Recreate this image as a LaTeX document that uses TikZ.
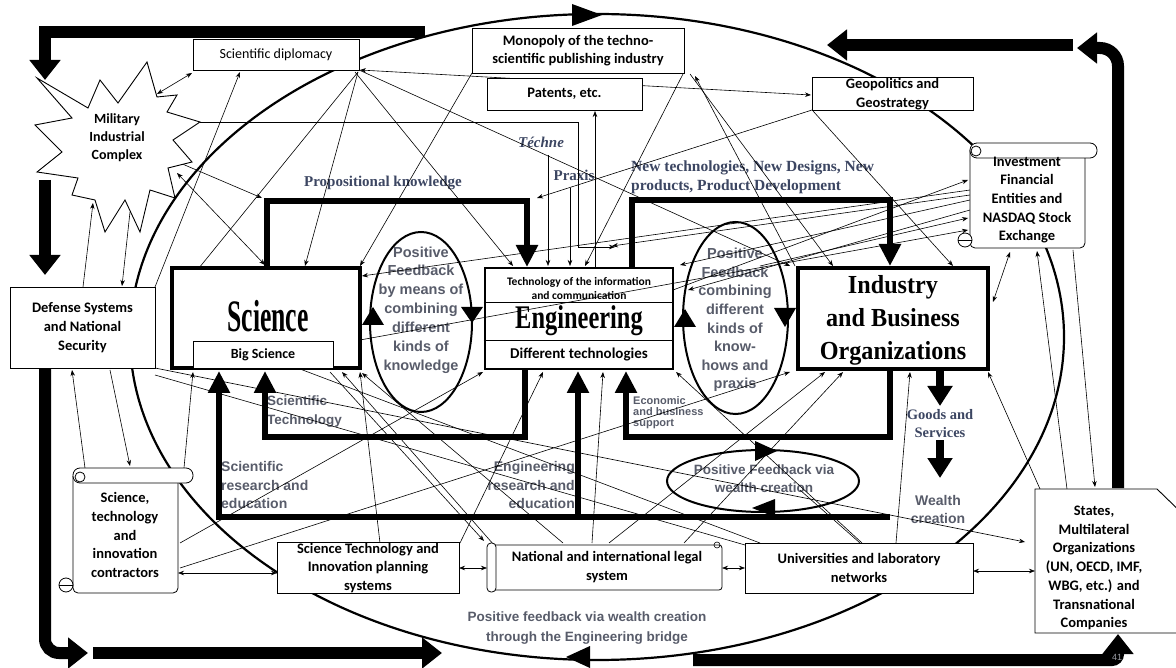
\documentclass[tikz,border=0pt]{standalone}
\usepackage{fontspec}
\usepackage{graphicx}
\setmainfont{Liberation Serif}
\newfontfamily\cfont{Carlito}
\newfontfamily\afont{Liberation Sans}
\usetikzlibrary{arrows.meta}
\definecolor{lab}{RGB}{88,92,106}
\definecolor{slate}{RGB}{60,70,98}
\begin{document}
\begin{tikzpicture}[x=1pt,y=-1pt,
  box/.style={draw,line width=0.9pt,fill=white,align=center,inner sep=1pt,font=\cfont\bfseries\fontsize{14.5}{18.7}\selectfont},
  btxt/.style={align=center,inner sep=0pt,font=\cfont\bfseries\fontsize{14.5}{18.7}\selectfont},
  ta/.style={line width=0.6pt,-{Stealth[length=6pt,width=4.5pt]}},
  tb/.style={line width=0.6pt,{Stealth[length=6pt,width=4.5pt]}-{Stealth[length=6pt,width=4.5pt]}},
  tl/.style={line width=0.6pt},
  thk/.style={line width=6.5pt,-{Triangle[length=22pt,width=21pt]}},
  outer/.style={line width=12pt,-{Triangle[length=20pt,width=30pt]}},
  gsans/.style={align=center,inner sep=0pt,text=lab,font=\afont\bfseries\fontsize{14.5}{18.9}\selectfont},
  gserif/.style={align=center,inner sep=0pt,text=slate,font=\bfseries\fontsize{15}{19}\selectfont},
  fbell/.style={line width=2pt},
]
\useasboundingbox (0,0) rectangle (1176,668);
\fill[white] (0,0) rectangle (1176,668);

% big ellipse
\draw[line width=2.2pt] (597,337) ellipse [x radius=467, y radius=323];
\fill (572,4) -- (602,15) -- (572,26) -- cycle;
\fill (566,657) -- (590,646) -- (590,668) -- cycle;

% outer loop
\draw[outer] (425,32) -- (45,32) -- (45,80);
\draw[outer] (45,180) -- (45,275);
\draw[outer,rounded corners=14] (45,368) -- (45,653) -- (88,653);
\draw[outer] (93,653) -- (442,653);
\draw[outer,rounded corners=6] (693,660) -- (1118,660) -- (1118,634);
\draw[outer,rounded corners=18] (1118,488) -- (1118,48) -- (1077,48);
\draw[outer] (1073,45) -- (827,45);

% feedback ellipse texts
\node[gsans] (lfb) at (421,310) {Positive\\Feedback\\by means of\\combining\\different\\kinds of\\knowledge};
\node[gsans,font=\afont\bfseries\fontsize{14.5}{18.6}\selectfont] (rfb) at (735,320) {Positive\\Feedback\\combining\\different\\kinds of\\know-\\hows and\\praxis};
\node[gsans,font=\afont\bfseries\fontsize{13.5}{18}\selectfont] (pfw) at (764,479) {Positive Feedback via\\wealth creation};

% labels
\node[gserif] (prop) at (383,183) {Propositional knowledge};
\node[gserif] (techne) at (541,142) {\itshape Téchne};
\node[gserif] (praxis) at (574,175) {Praxis};
\node[gserif,anchor=west,align=left,font=\bfseries\fontsize{15.5}{19}\selectfont] (newtech) at (631,177) {New technologies, New Designs, New\\products, Product Development};
\node[gserif,font=\bfseries\fontsize{14.5}{18}\selectfont] (goods) at (940,424) {Goods and\\Services};
\node[gsans,anchor=west,align=left,font=\afont\bfseries\fontsize{13.5}{19}\selectfont] (scitech) at (267,412) {Scientific\\Technology};
\node[gsans,anchor=west,align=left,font=\afont\bfseries\fontsize{14}{18.5}\selectfont] (scires) at (221,485) {Scientific\\research and\\education};
\node[gsans,anchor=east,align=right,font=\afont\bfseries\fontsize{14}{18.5}\selectfont] (engres) at (575,485) {Engineering\\research and\\education};
\node[gsans,anchor=west,align=left,font=\afont\bfseries\fontsize{11}{11}\selectfont] (econ) at (633,413) {Economic\\and business\\support};
\node[gsans,font=\afont\bfseries\fontsize{14}{18}\selectfont] (wealth) at (938,509) {Wealth\\creation};
\node[gsans,font=\afont\bfseries\fontsize{13.5}{20}\selectfont] (pfb) at (587,628) {Positive feedback via wealth creation\\through the Engineering bridge};
\node[text=lab!60,font=\afont\fontsize{9}{9}\selectfont] (pg) at (1117,657) {41};

% feedback ellipses
\draw[fbell] (421,322) ellipse [x radius=51, y radius=90];
\fill (373,307) -- (384,325) -- (362,325) -- cycle;
\fill (472,323) -- (483,307) -- (461,307) -- cycle;
\draw[fbell] (735.5,318) ellipse [x radius=52.5, y radius=96];
\fill (685,309) -- (696,327) -- (674,327) -- cycle;
\fill (785,327) -- (796,308) -- (774,308) -- cycle;
\draw[fbell] (763,481) ellipse [x radius=96, y radius=31];
\fill (777,451) -- (755,441) -- (755,461) -- cycle;
\fill (752,508) -- (775,499) -- (775,517) -- cycle;

% thick inner loops
\draw[thk] (267,268) -- (267,201) -- (527,201) -- (527,267);
\draw[thk] (525,369) -- (525,437) -- (265,437) -- (265,371);
\draw[thk] (890,517) -- (219,517) -- (219,371);
\draw[thk] (578,517) -- (578,371);
\draw[thk] (632,268) -- (632,200) -- (890,200) -- (890,266);
\draw[thk] (890,369) -- (890,437) -- (626,437) -- (626,371);
\draw[line width=8pt,-{Triangle[length=20pt,width=24pt]}] (940,369) -- (940,406);
\draw[line width=8pt,-{Triangle[length=20pt,width=24pt]}] (940,440) -- (940,478);

% thin connectors, top
\draw[tb] (192,73) -- (157,94);
\draw[ta] (155,287) -- (240,72);
\draw[ta] (83,287) -- (93,203);
\draw[ta] (130,212) -- (122,286);
\draw[tb] (177,173) -- (265,265);
\draw[ta] (173,160) -- (262,198);
\draw[ta] (200,122) -- (578,122) -- (578,247) -- (615,247);
\draw[ta] (358,72) -- (305,266);
\draw[tl] (358,72) -- (199,268);
\draw[ta] (472,73) -- (360,266);
\draw[ta] (355,72) -- (513,266);
\draw[ta] (359,70) -- (790,266);
\draw[ta] (683,74) -- (585,266);
\draw[ta] (795,266) -- (695,76);
\draw[ta] (690,74) -- (833,266);
\draw[ta] (595,268) -- (595,111);
\draw[ta] (548,155) -- (548,266);
\draw[ta] (570,188) -- (570,266);
\draw[ta] (812,110) -- (537,198);
\draw[ta] (813,111) -- (953,266);
\draw[tb] (360,70) -- (811,95);
\draw[ta] (673,290) -- (968,180);
\draw[ta] (760,266) -- (968,218);
\draw[ta] (970,195) -- (612,246);
\draw[ta] (970,200) -- (680,265);
\draw[ta] (970,210) -- (688,290);
\draw[ta] (970,190) -- (362,276);
\draw[ta] (360,340) -- (968,230);
\draw[tb] (1010,252) -- (993,302);
\draw[ta] (1067,489) -- (1037,251);
\draw[ta] (1073,250) -- (1095,487);

% thin connectors, bottom
\draw[ta] (184,468) -- (193,372);
\draw[ta] (110,370) -- (130,466);
\draw[ta] (85,468) -- (72,370);
\draw[ta] (380,543) -- (360,372);
\draw[ta] (563,543) -- (362,373);
\draw[ta] (494,545) -- (342,372);
\draw[ta] (180,543) -- (483,372);
\draw[ta] (460,543) -- (543,372);
\draw[ta] (592,543) -- (603,372);
\draw[ta] (862,543) -- (676,372);
\draw[ta] (609,543) -- (825,372);
\draw[ta] (684,543) -- (843,372);
\draw[ta] (896,543) -- (910,372);
\draw[ta] (1040,489) -- (988,372);
\draw[ta] (155,368) -- (1025,542);
\draw[tl] (155,375) -- (745,545);
\draw[tl] (300,369) -- (760,543);
\draw[ta] (330,372) -- (484,541);
\draw[ta] (180,568) -- (790,372);
\draw[tl] (800,490) -- (860,543);
\draw[tb] (178,573) -- (277,573);
\draw[tb] (459,568) -- (487,568);
\draw[tb] (722,568) -- (745,568);
\draw[tb] (973,571) -- (1035,571);

% main boxes
\node[draw,line width=3.5pt,minimum width=188,minimum height=100,inner sep=0pt] (sci) at (266,318) {};
\node[inner sep=0pt] (scit) at (268,316) {\scalebox{0.57}[1]{\fontsize{45}{45}\selectfont\bfseries Science}};
\node[box,font=\cfont\bfseries\fontsize{14}{16}\selectfont,minimum width=140,minimum height=27] (bigsci) at (263,355) {Big Science};
\node[draw,line width=2.8pt,minimum width=188,minimum height=101,inner sep=0pt] (eng) at (579,318.5) {};
\draw[line width=1pt] (eng.west |- 0,303) -- (eng.east |- 0,303);
\draw[line width=1pt] (eng.west |- 0,341) -- (eng.east |- 0,341);
\node[btxt,font=\cfont\bfseries\fontsize{11.5}{14}\selectfont] (ict) at (579,289) {Technology of the information\\and communication};
\node[inner sep=0pt] (engt) at (579,321) {\scalebox{0.74}[1]{\fontsize{33}{33}\selectfont\bfseries Engineering}};
\node[btxt,font=\cfont\bfseries\fontsize{15}{16}\selectfont] (difft) at (579,355) {Different technologies};
\node[draw,line width=3.5pt,minimum width=190,minimum height=101,inner sep=0pt] (ind) at (893,318.5) {};
\node[inner sep=0pt] (indt) at (893,320) {\scalebox{0.93}[1]{\fontsize{26}{33}\selectfont\bfseries\begin{tabular}{@{}c@{}}Industry\\and Business\\Organizations\end{tabular}}};

% small boxes
\node[box,font=\cfont\fontsize{14}{16}\selectfont,minimum width=166,minimum height=31] (dipl) at (276,54.5) {Scientific diplomacy};
\node[box,minimum width=212,minimum height=45] (mono) at (578,50.5) {Monopoly of the techno-\\scientific publishing industry};
\node[box,minimum width=155,minimum height=32] (pat) at (564.5,94) {Patents, etc.};
\node[box,minimum width=161,minimum height=32] (geo) at (892.5,94) {Geopolitics and\\Geostrategy};
\node[box,minimum width=145,minimum height=81] (def) at (82.5,327.5) {Defense Systems\\and National\\Security};
\node[box,minimum width=182,minimum height=50] (plan) at (368,568) {Science Technology and\\Innovation planning\\systems};
\node[box,minimum width=228,minimum height=50] (univ) at (859,568) {Universities and laboratory\\networks};

% military star
\draw[fill=white,line width=0.9pt] (37,78) -- (88,108) -- (100,80) -- (118,103) -- (147,62) -- (157,97) -- (177,95) -- (167,112) -- (200,122) -- (173,140) -- (192,162) -- (168,168) -- (175,198) -- (150,190) -- (140,232) -- (125,200) -- (105,232) -- (95,200) -- (72,195) -- (78,178) -- (37,172) -- (62,152) -- (35,125) -- (72,118) -- cycle;
\node[btxt,font=\cfont\bfseries\fontsize{14}{18}\selectfont] (mic) at (117,138) {Military\\Industrial\\Complex};

% investment scroll
\draw[fill=white,line width=0.8pt,rounded corners=5] (970,150) -- (970,248) -- (1085,248) -- (1085,150);
\draw[fill=white,line width=0.8pt,rounded corners=7] (970,143) rectangle (1097,158);
\draw[line width=0.8pt] (976,151) circle (5);
\draw[fill=white,line width=0.8pt] (965,240) circle (7);
\draw[line width=0.8pt] (958,240) -- (972,240);
\node[btxt] (inv) at (1027,200) {Investment\\Financial\\Entities and\\NASDAQ Stock\\Exchange};

% contractors scroll
\draw[fill=white,line width=0.8pt,rounded corners=5] (73,476) -- (73,593) -- (178,593) -- (178,476);
\draw[fill=white,line width=0.8pt,rounded corners=7] (73,468) rectangle (193,483);
\draw[line width=0.8pt] (80,477) circle (5);
\draw[fill=white,line width=0.8pt] (66,585) circle (7);
\draw[line width=0.8pt] (59,585) -- (73,585);
\node[btxt] (contr) at (125,535) {Science,\\technology\\and\\innovation\\contractors};

% legal scroll
\draw[fill=white,line width=0.8pt,rounded corners=3] (490,545) rectangle (722,590);
\draw[fill=white,line width=0.8pt,rounded corners=4] (487,543) rectangle (496,592);
\draw[line width=0.6pt] (717,545) circle (3);
\node[btxt] (legal) at (607,567) {National and international legal\\system};

% states
\draw[fill=white,line width=0.9pt] (1190,521) -- (1157,489) -- (1035,489) -- (1035,633) -- (1190,633);
\node[btxt] (states) at (1094,568) {States,\\Multilateral\\Organizations\\(UN, OECD, IMF,\\WBG, etc.) and\\Transnational\\Companies};
\end{tikzpicture}
\end{document}
